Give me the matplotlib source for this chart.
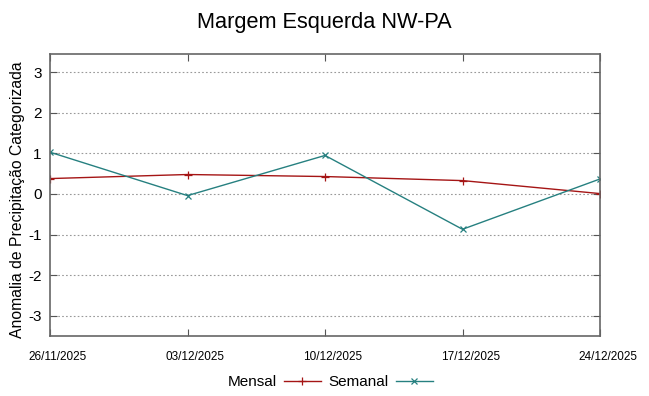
import matplotlib
matplotlib.use("Agg")
import matplotlib.pyplot as plt
import matplotlib.transforms as mtransforms

dates = ["26/11/2025", "03/12/2025", "10/12/2025", "17/12/2025", "24/12/2025"]
mensal = [0.38, 0.48, 0.43, 0.33, 0.01]
semanal = [1.03, -0.04, 0.95, -0.87, 0.37]
yticks = [-3, -2, -1, 0, 1, 2, 3]

plt.rcParams['font.family'] = ['Liberation Sans', 'DejaVu Sans']

fig = plt.figure(figsize=(6.49, 3.96), dpi=100)
ax = fig.add_axes([50/649, 60/396, 550/649, 282/396])

x = list(range(len(dates)))
ax.plot(x, mensal, color='#a51515', lw=1.0, marker='+', ms=6, mew=0.9, label='Mensal')
ax.plot(x, semanal, color='#268080', lw=1.0, marker='x', ms=5, mew=0.9, label='Semanal')

ax.set_xlim(0, len(dates) - 1)
ax.set_ylim(-3.5, 3.45)
ax.set_xticks(x)
ax.set_xticklabels([])
trans = mtransforms.blended_transform_factory(ax.transData, ax.transAxes) + \
    mtransforms.ScaledTranslation(8/100, -21/100, fig.dpi_scale_trans)
for xi, d in zip(x, dates):
    ax.text(xi, 0, d, transform=trans, ha='center', va='center', fontsize=8.5, clip_on=False)
ax.set_yticks(yticks)
ax.set_yticklabels([str(v) for v in yticks], fontsize=11)
ax.tick_params(axis='x', direction='in', length=5, top=True, color='#555555')
ax.tick_params(axis='y', direction='in', length=5, right=True, pad=6, color='#555555')
ax.yaxis.grid(True, linestyle=(0, (1.5, 2)), color='#999999', lw=0.8)
for s in ax.spines.values():
    s.set_color('#666666')
    s.set_linewidth(1.2)

ax.set_ylabel('Anomalia de Precipitação Categorizada', fontsize=11.3)
ax.yaxis.set_label_coords(-0.046, 0.485)
fig.suptitle('Margem Esquerda NW-PA', fontsize=15.7, y=0.97)

fig.legend(loc='center', bbox_to_anchor=(330/649, 1 - 382/396), ncol=2,
           frameon=False, markerfirst=False, fontsize=11, handlelength=2.4,
           columnspacing=0.5, handletextpad=0.5)

fig.savefig('out.png', dpi=100)
